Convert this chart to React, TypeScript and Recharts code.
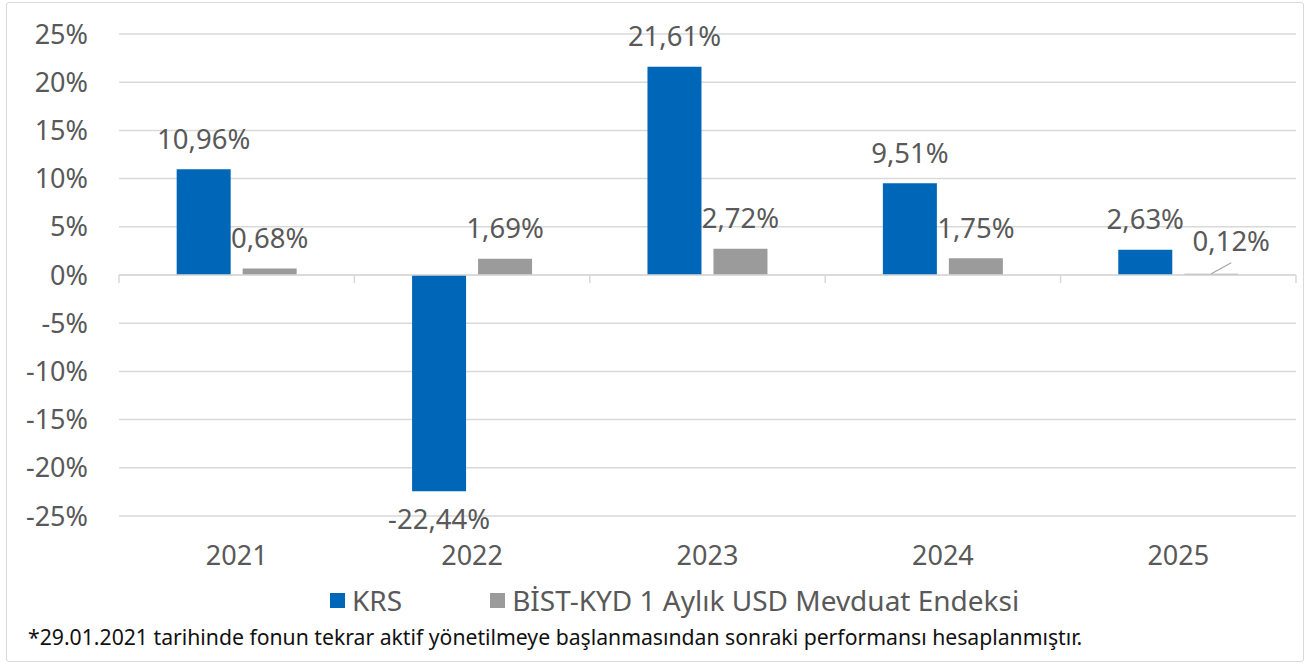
import React from 'react';
import { BarChart, Bar, XAxis, YAxis, CartesianGrid, LabelList, Legend, ReferenceLine } from 'recharts';

const years = ['2021', '2022', '2023', '2024', '2025'];
const krsValues = [10.96, -22.44, 21.61, 9.51, 2.63];
const bistValues = [0.68, 1.69, 2.72, 1.75, 0.12];
const yTicks = [-25, -20, -15, -10, -5, 0, 5, 10, 15, 20, 25];
const seriesNames = ['KRS', 'BİST-KYD 1 Aylık USD Mevduat Endeksi'];
const seriesColors = ['#0066B8', '#9B9B9B'];
const footnote =
  '*29.01.2021 tarihinde fonun tekrar aktif yönetilmeye başlanmasından sonraki performansı hesaplanmıştır.';

const data = years.map((year, i) => ({ year, krs: krsValues[i], bist: bistValues[i] }));

const FONT = '"Noto Sans", "Open Sans", sans-serif';
const TEXT = '#595959';
const GRID = '#d9d9d9';

const fmt = (v: number) => v.toFixed(2).replace('.', ',') + '%';

const ValueLabel = (props: any) => {
  const { x, y, width, height, value } = props;
  const top = Math.min(y, y + height);
  const bottom = Math.max(y, y + height);
  const cx = x + width / 2;
  if (value < 0) {
    return (
      <text x={cx} y={bottom + 27} textAnchor="middle" dominantBaseline="central" fill={TEXT} fontSize={27.5} fontFamily={FONT}>
        {fmt(value)}
      </text>
    );
  }
  if (value < 0.5) {
    return (
      <g>
        <line x1={cx} y1={top} x2={cx + 20} y2={top - 11} stroke="#a6a6a6" strokeWidth={1.2} />
        <text x={cx + 20} y={top - 33} textAnchor="middle" dominantBaseline="central" fill={TEXT} fontSize={27.5} fontFamily={FONT}>
          {fmt(value)}
        </text>
      </g>
    );
  }
  return (
    <text x={cx} y={top - 31} textAnchor="middle" dominantBaseline="central" fill={TEXT} fontSize={27.5} fontFamily={FONT}>
      {fmt(value)}
    </text>
  );
};

const ZeroAxis = (props: any) => {
  const { x1, y1, x2, y2 } = props;
  const n = years.length;
  const step = (x2 - x1) / n;
  return (
    <g>
      <line x1={x1} y1={y1} x2={x2} y2={y2} stroke={GRID} strokeWidth={1.5} />
      {Array.from({ length: n + 1 }, (_, i) => (
        <line key={i} x1={x1 + i * step} x2={x1 + i * step} y1={y1} y2={y1 + 8} stroke={GRID} strokeWidth={1.5} />
      ))}
    </g>
  );
};

const LegendContent = () => (
  <div style={{ display: 'flex', alignItems: 'center', height: 40, paddingLeft: 330, fontFamily: FONT, fontSize: 28, color: TEXT }}>
    {seriesNames.map((name, i) => (
      <div key={name} style={{ display: 'flex', alignItems: 'center', marginRight: 88 }}>
        <span style={{ display: 'inline-block', width: 15, height: 15, background: seriesColors[i], marginRight: 7 }} />
        <span>{name}</span>
      </div>
    ))}
  </div>
);

export default function App() {
  return (
    <div style={{ position: 'absolute', left: 0, top: 0, width: 1311, height: 667, background: '#fff', overflow: 'hidden' }}>
      <div
        style={{
          position: 'absolute',
          left: 6,
          top: 2,
          width: 1298,
          height: 660,
          border: `1.5px solid ${GRID}`,
          borderRadius: 3,
          boxSizing: 'border-box',
        }}
      />
      <div style={{ position: 'absolute', left: 0, top: 0 }}>
        <BarChart
          width={1311}
          height={667}
          data={data}
          margin={{ top: 34, right: 15, left: 0, bottom: 47 }}
          barCategoryGap="24.5%"
          barGap={12}
        >
          <CartesianGrid vertical={false} stroke={GRID} strokeWidth={1.5} />
          <XAxis
            dataKey="year"
            axisLine={false}
            tickLine={false}
            tickSize={0}
            tickMargin={30}
            height={64}
            tick={{ fill: TEXT, fontSize: 27, fontFamily: FONT }}
            interval={0}
          />
          <YAxis
            domain={[-25, 25]}
            ticks={yTicks}
            width={119}
            axisLine={false}
            tickLine={false}
            tickSize={0}
            tickMargin={31}
            tickFormatter={(v: number) => `${v}%`}
            tick={{ fill: TEXT, fontSize: 27, fontFamily: FONT }}
            allowDataOverflow
          />
          <ReferenceLine y={0} shape={ZeroAxis} />
          <Bar dataKey="krs" name={seriesNames[0]} fill={seriesColors[0]} isAnimationActive={false}>
            <LabelList dataKey="krs" content={ValueLabel} />
          </Bar>
          <Bar dataKey="bist" name={seriesNames[1]} fill={seriesColors[1]} isAnimationActive={false}>
            <LabelList dataKey="bist" content={ValueLabel} />
          </Bar>
          <Legend verticalAlign="bottom" height={40} content={LegendContent} />
        </BarChart>
      </div>
      <div
        style={{
          position: 'absolute',
          left: 28,
          top: 623,
          fontFamily: FONT,
          fontSize: 21.2,
          color: '#111',
          whiteSpace: 'nowrap',
          lineHeight: '28px',
        }}
      >
        {footnote}
      </div>
    </div>
  );
}
